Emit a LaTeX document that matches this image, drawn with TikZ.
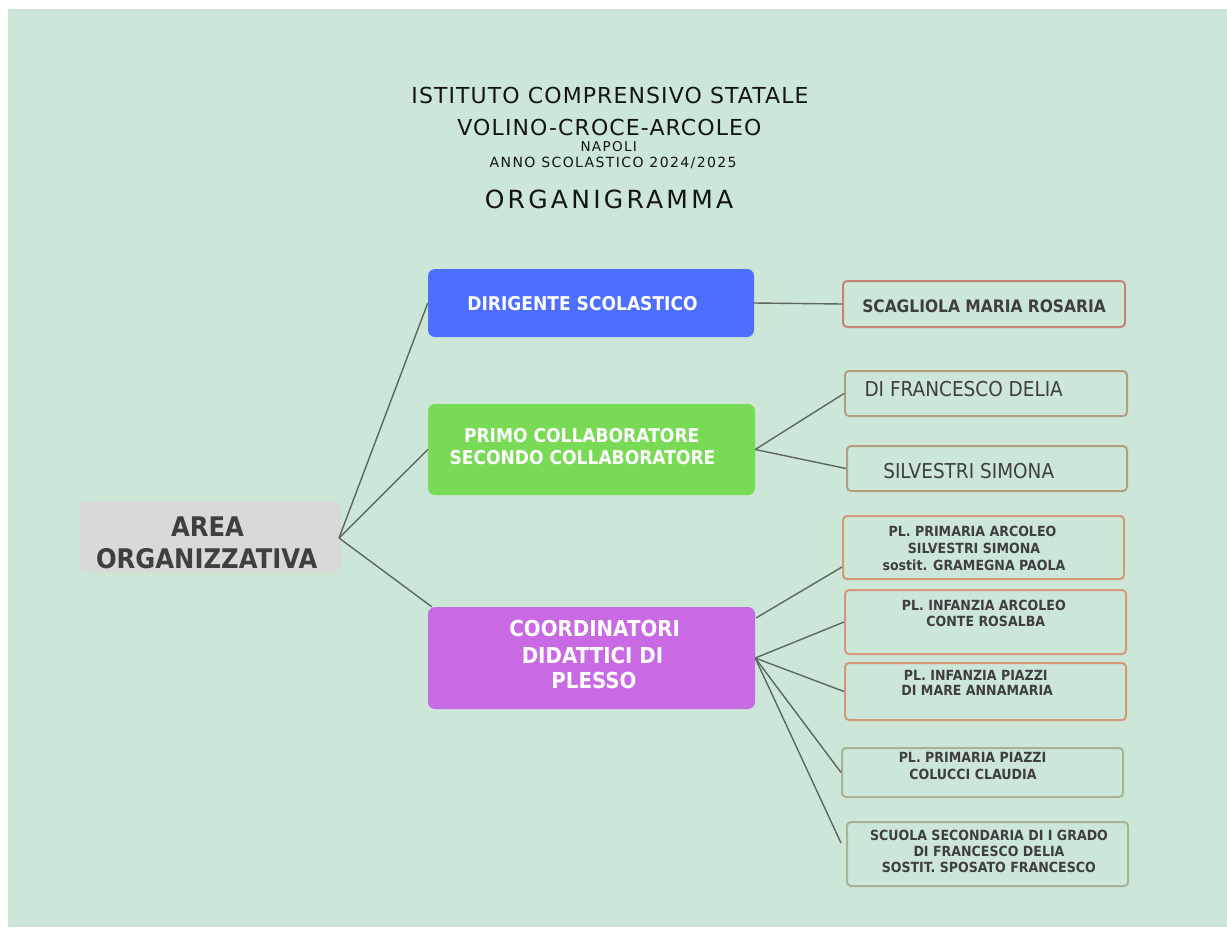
\documentclass[tikz,border=0pt]{standalone}
\usepackage{fontspec}
\setmainfont{DejaVu Sans}
\newfontfamily\titlefont[LetterSpace=5]{DejaVu Sans}
\newfontfamily\smalltitlefont[LetterSpace=10]{DejaVu Sans}
\newfontfamily\orgfont[LetterSpace=13]{DejaVu Sans}
\newfontfamily\boldnf[FakeStretch=0.9]{DejaVu Sans Bold}
\newfontfamily\regnf[FakeStretch=0.9]{DejaVu Sans}
\definecolor{bgc}{HTML}{CCE6D8}
\definecolor{blueb}{HTML}{4D6FFF}
\definecolor{greenb}{HTML}{79DA56}
\definecolor{purpleb}{HTML}{C969E4}
\definecolor{grayb}{HTML}{D9D9D9}
\definecolor{linec}{HTML}{5E6660}
\definecolor{darktxt}{HTML}{3F3F3F}
\definecolor{titletxt}{HTML}{141414}
\definecolor{redbd}{HTML}{C88377}
\definecolor{tanbd}{HTML}{B1A07F}
\definecolor{orangebd}{HTML}{D49778}
\definecolor{sagebd}{HTML}{A8B396}
\newcommand{\fs}[1]{\fontsize{#1}{#1}\selectfont}
\tikzset{
  mainbox/.style={rounded corners=7pt, inner sep=0pt, draw=none},
  leafbox/.style={rounded corners=4pt, draw=#1, line width=2pt, inner sep=0pt},
  txt/.style={inner sep=0pt, anchor=base},
  conn/.style={draw=linec, line width=1.4pt},
}
\begin{document}
\begin{tikzpicture}[x=1pt,y=-1pt]
\useasboundingbox (0,0) rectangle (1227,927);
\fill[white] (0,0) rectangle (1227,927);
\fill[bgc] (8,9) rectangle (1227,927);

% title
\node[txt, text=titletxt] (t1) at (610,103.3) {\titlefont\fs{22}ISTITUTO COMPRENSIVO STATALE};
\node[txt, text=titletxt] (t2) at (609.5,135) {\titlefont\fs{22}VOLINO-CROCE-ARCOLEO};
\node[txt, text=titletxt] (t3) at (608.7,151) {\smalltitlefont\fs{13.5}NAPOLI};
\node[txt, text=titletxt] (t4) at (613.2,167.7) {\smalltitlefont\fs{14}ANNO SCOLASTICO 2024/2025};
\node[txt, text=titletxt] (t5) at (609,208.3) {\orgfont\fs{25}ORGANIGRAMMA};

% main boxes
\node[mainbox, fill=grayb, minimum width=261pt, minimum height=71pt] (area) at (210.5,536.5) {};
\node[mainbox, fill=blueb, minimum width=326pt, minimum height=68pt] (dir) at (591,303) {};
\node[mainbox, fill=greenb, minimum width=327pt, minimum height=91pt] (coll) at (591.5,449.5) {};
\node[mainbox, fill=purpleb, minimum width=327pt, minimum height=102pt] (coord) at (591.5,658) {};

% leaf boxes
\node[leafbox=redbd, minimum width=282pt, minimum height=46pt] (scag) at (984,304) {};
\node[leafbox=tanbd, minimum width=282pt, minimum height=45pt] (dfd) at (986,393.5) {};
\node[leafbox=tanbd, minimum width=280pt, minimum height=45pt] (silv) at (987,468.5) {};
\node[leafbox=orangebd, minimum width=281pt, minimum height=63pt] (ppa) at (983.5,547.5) {};
\node[leafbox=orangebd, minimum width=281pt, minimum height=64pt] (pia) at (985.5,622) {};
\node[leafbox=orangebd, minimum width=281pt, minimum height=57pt] (pip) at (985.5,691.5) {};
\node[leafbox=sagebd, minimum width=281pt, minimum height=49pt] (ppp) at (982.5,772.5) {};
\node[leafbox=sagebd, minimum width=281pt, minimum height=64pt] (ssc) at (987.5,854) {};

% connectors
\coordinate (areaout) at (339,538);
\coordinate (coordtop) at (756,618);
\coordinate (ppain) at (842,567);
\coordinate (sscin) at (841,843);
\draw[conn] (areaout) -- (dir.west);
\draw[conn] (areaout) -- (coll.west);
\draw[conn] (areaout) -- ([xshift=4pt]coord.north west);
\draw[conn] (dir.east) -- (scag.west);
\draw[conn] (coll.east) -- (dfd.west);
\draw[conn] (coll.east) -- (silv.west);
\draw[conn] (coordtop) -- (ppain);
\draw[conn] (coord.east) -- (pia.west);
\draw[conn] (coord.east) -- (pip.west);
\draw[conn] (coord.east) -- (ppp.west);
\draw[conn] (coord.east) -- (sscin);

% main texts
\node[txt, text=darktxt] (areat1) at (207.5,536) {\boldnf\fs{27}AREA};
\node[txt, text=darktxt] (areat2) at (206.7,568.7) {\boldnf\fs{27}ORGANIZZATIVA};
\node[txt, text=white] (dirt) at (582.5,310.7) {\boldnf\fs{19}DIRIGENTE SCOLASTICO};
\node[txt, text=white] (collt1) at (581.7,442.7) {\boldnf\fs{19}PRIMO COLLABORATORE};
\node[txt, text=white] (collt2) at (582.5,464) {\boldnf\fs{19}SECONDO COLLABORATORE};
\node[txt, text=white] (coordt1) at (594.7,636) {\boldnf\fs{22}COORDINATORI};
\node[txt, text=white] (coordt2) at (592.5,663.3) {\boldnf\fs{22}DIDATTICI DI};
\node[txt, text=white] (coordt3) at (594,688.3) {\boldnf\fs{22}PLESSO};

% leaf texts
\node[txt, text=darktxt] (scagt) at (984,312.7) {\boldnf\fs{17.2}SCAGLIOLA MARIA ROSARIA};
\node[txt, text=darktxt] (dfdt) at (963.7,396) {\regnf\fs{20.5}DI FRANCESCO DELIA};
\node[txt, text=darktxt] (silvt) at (968.7,478.3) {\regnf\fs{20.5}SILVESTRI SIMONA};
\node[txt, text=darktxt] (ppat1) at (972.5,536.7) {\boldnf\fs{14}PL. PRIMARIA ARCOLEO};
\node[txt, text=darktxt] (ppat2) at (974,553.3) {\boldnf\fs{14}SILVESTRI SIMONA};
\node[txt, text=darktxt] (ppat3) at (974,570.7) {\boldnf\fs{14}sostit. GRAMEGNA PAOLA};
\node[txt, text=darktxt] (piat1) at (983.8,610.7) {\boldnf\fs{14}PL. INFANZIA ARCOLEO};
\node[txt, text=darktxt] (piat2) at (985.8,626.7) {\boldnf\fs{14}CONTE ROSALBA};
\node[txt, text=darktxt] (pipt1) at (975.8,680) {\boldnf\fs{14}PL. INFANZIA PIAZZI};
\node[txt, text=darktxt] (pipt2) at (977.2,695.7) {\boldnf\fs{14}DI MARE ANNAMARIA};
\node[txt, text=darktxt] (pppt1) at (972.5,762.7) {\boldnf\fs{14}PL. PRIMARIA PIAZZI};
\node[txt, text=darktxt] (pppt2) at (973,779.3) {\boldnf\fs{14}COLUCCI CLAUDIA};
\node[txt, text=darktxt] (ssct1) at (989,840) {\boldnf\fs{14}SCUOLA SECONDARIA DI I GRADO};
\node[txt, text=darktxt] (ssct2) at (989,856) {\boldnf\fs{14}DI FRANCESCO DELIA};
\node[txt, text=darktxt] (ssct3) at (988.8,872.7) {\boldnf\fs{14}SOSTIT. SPOSATO FRANCESCO};
\end{tikzpicture}
\end{document}
